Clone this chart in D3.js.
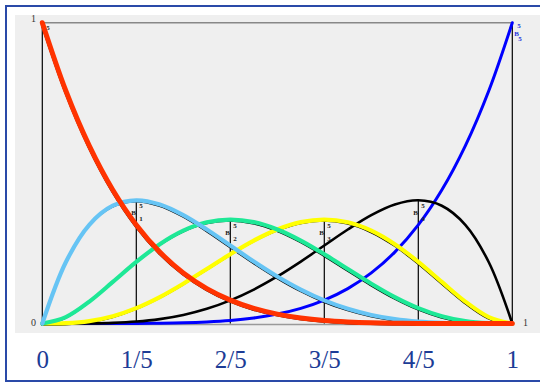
<!DOCTYPE html>
<html><head><meta charset="utf-8">
<script src="https://cdn.jsdelivr.net/npm/d3@7"></script>
<style>body{margin:0;background:#fff}svg{display:block}</style>
</head><body>
<svg id="c" width="540" height="384"></svg>
<script>
const tValues = [0,0.05,0.1,0.15,0.2,0.25,0.3,0.35,0.4,0.45,0.5,0.55,0.6,0.65,0.7,0.75,0.8,0.85,0.9,0.95,1];
const b0 = [1,0.7738,0.5905,0.4437,0.3277,0.2373,0.1681,0.1160,0.0778,0.0503,0.0313,0.0185,0.0102,0.0053,0.0024,0.0010,0.0003,0.0001,0,0,0];
const b1 = [0,0.2036,0.3281,0.3915,0.4096,0.3955,0.3602,0.3124,0.2592,0.2059,0.1563,0.1128,0.0768,0.0488,0.0284,0.0146,0.0064,0.0022,0.0005,0,0];
const b2 = [0,0.0214,0.0729,0.1382,0.2048,0.2637,0.3087,0.3364,0.3456,0.3369,0.3125,0.2757,0.2304,0.1811,0.1323,0.0879,0.0512,0.0244,0.0081,0.0011,0];
const b3 = [0,0.0011,0.0081,0.0244,0.0512,0.0879,0.1323,0.1811,0.2304,0.2757,0.3125,0.3369,0.3456,0.3364,0.3087,0.2637,0.2048,0.1382,0.0729,0.0214,0];
const b4 = [0,0,0.0005,0.0022,0.0064,0.0146,0.0284,0.0488,0.0768,0.1128,0.1563,0.2059,0.2592,0.3124,0.3602,0.3955,0.4096,0.3915,0.3281,0.2036,0];
const b5 = [0,0,0,0.0001,0.0003,0.0010,0.0024,0.0053,0.0102,0.0185,0.0313,0.0503,0.0778,0.1160,0.1681,0.2373,0.3277,0.4437,0.5905,0.7738,1];
const seriesNames = ["B0","B1","B2","B3","B4","B5"];
const seriesIndex = ["0","1","2","3","4","5"];
const peakT = [0,0.2,0.4,0.6,0.8,1];
const peakV = [1,0.4096,0.3456,0.3456,0.4096,1];
const tickValues = [0,0.2,0.4,0.6,0.8,1];
const tickLabels = ["0","1/5","2/5","3/5","4/5","1"];

const svg = d3.select("#c");
svg.append("rect").attr("x",6).attr("y",6).attr("width",540).attr("height",375)
  .attr("fill","#fff").attr("stroke","#2a4aa8").attr("stroke-width",2);
svg.append("rect").attr("x",15).attr("y",15).attr("width",525).attr("height",318).attr("fill","#efefef");

const x = d3.scaleLinear().domain([0,1]).range([42.3,512.3]);
const y = d3.scaleLinear().domain([0,1]).range([323.5,22.7]);

svg.append("line").attr("x1",x(0)).attr("x2",x(1)).attr("y1",y(1)).attr("y2",y(1)).attr("stroke","#888").attr("stroke-width",1.5);
svg.append("line").attr("x1",x(0)).attr("x2",x(1)).attr("y1",y(0)+1).attr("y2",y(0)+1).attr("stroke","#999").attr("stroke-width",1.5);

peakT.forEach((t,i)=>{
  svg.append("line").attr("x1",x(t)).attr("x2",x(t)).attr("y1",y(peakV[i])).attr("y2",y(0))
    .attr("stroke","#000").attr("stroke-width",1.2);
});

const all = [b0,b1,b2,b3,b4,b5];
const colors = ["#ff3300","#66c4f4","#1ee896","#ffff00","#000000","#0000ff"];
const widths = [5,4.2,4.2,4.2,2.6,3];
const line = d3.line().x((d,i)=>x(tValues[i])).y(d=>y(d)).curve(d3.curveCatmullRom);

[0,1,2,3].forEach(i=>{
  svg.append("path").attr("d",line(all[i])).attr("fill","none").attr("stroke","#000")
    .attr("stroke-width",1.4).attr("transform","translate(-1,1.6)");
});
[5,4,3,2,1,0].forEach(i=>{
  svg.append("path").attr("d",line(all[i])).attr("fill","none").attr("stroke",colors[i])
    .attr("stroke-width",widths[i]).attr("stroke-linecap","round");
});

const small = svg.append("g").attr("font-family","Liberation Serif, serif").attr("font-size",7).attr("font-weight","bold");
peakT.forEach((t,i)=>{
  if(i===0){
    small.append("text").attr("x",x(t)+4).attr("y",y(peakV[i])+7).text("5").attr("fill","#333");
    return;
  }
  const col = i===5 ? "#2233dd" : "#222";
  const px = x(t), py = y(peakV[i]);
  small.append("text").attr("x",px+(i===5?5:3)).attr("y",py+(i===5?5:8)).text("5").attr("fill",col);
  small.append("text").attr("x",px-5+(i===5?7:0)).attr("y",py+(i===5?13:15)).text("B").attr("fill",col);
  small.append("text").attr("x",px+(i===5?6:3)).attr("y",py+(i===5?18:21)).text(seriesIndex[i]).attr("fill",col);
});

const corner = svg.append("g").attr("font-family","Liberation Serif, serif").attr("font-size",10).attr("fill","#333");
corner.append("text").attr("x",31).attr("y",y(1)-0.5).text("1");
corner.append("text").attr("x",31).attr("y",y(0)+2).text("0");
corner.append("text").attr("x",523).attr("y",y(0)+2).text("1");

const axis = d3.axisBottom(x).tickValues(tickValues).tickFormat((d,i)=>tickLabels[i]).tickSize(0).tickPadding(0);
const ag = svg.append("g").attr("transform","translate(0,350)").call(axis);
ag.select(".domain").remove();
ag.selectAll("text").attr("font-family","Liberation Serif, serif").attr("font-size",25).attr("fill","#1c3c96");
</script>
</body></html>
